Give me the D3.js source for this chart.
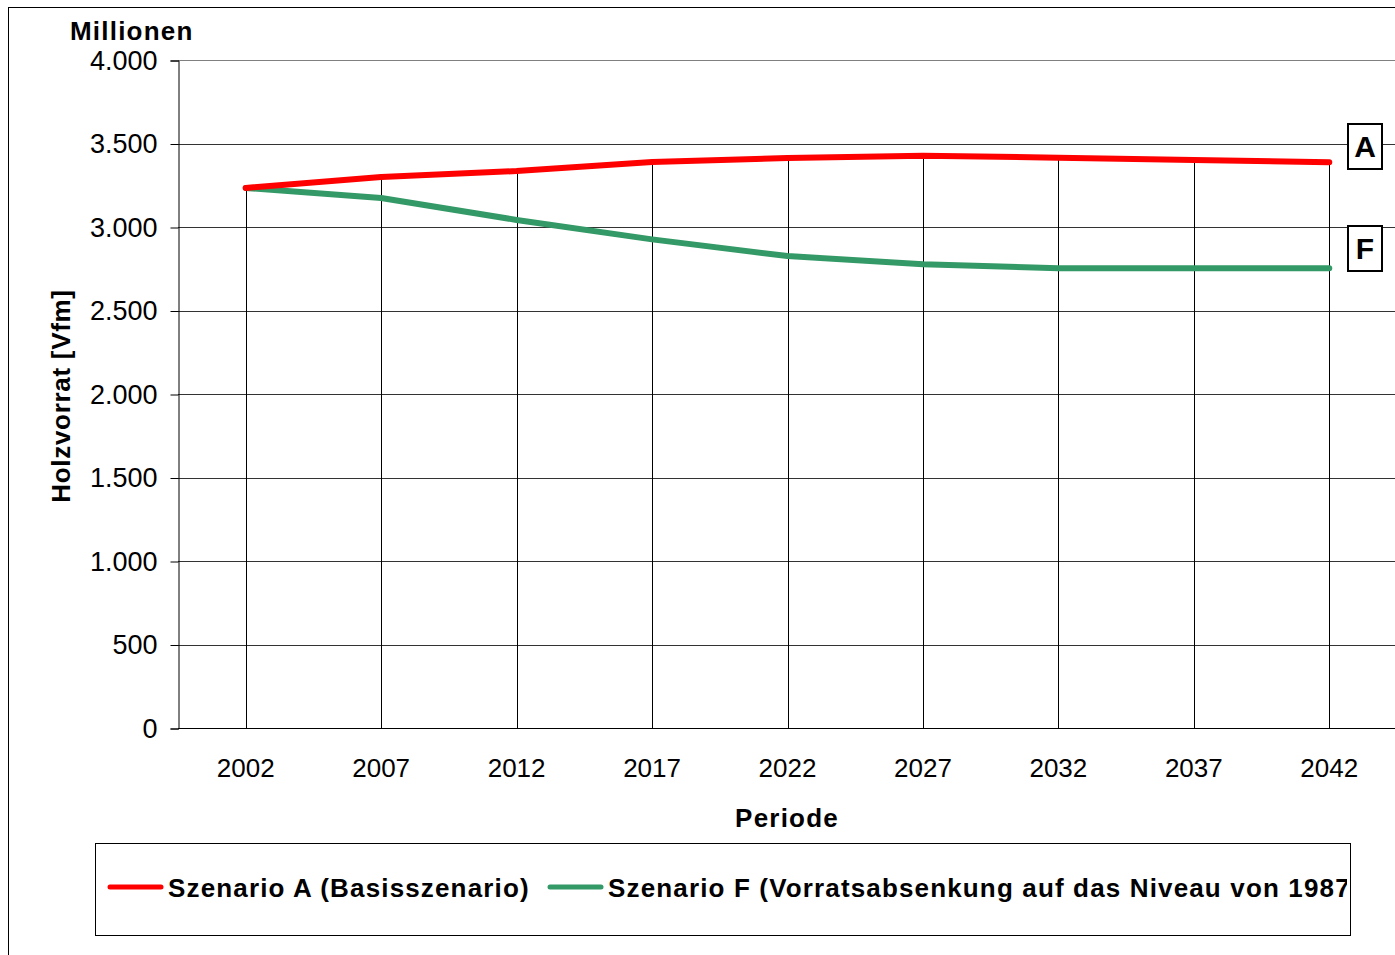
<!DOCTYPE html>
<html>
<head>
<meta charset="utf-8">
<script src="https://cdn.jsdelivr.net/npm/d3@7"></script>
<style>
  body { margin: 0; background: #fff; }
  text { font-family: "Liberation Sans", Arial, sans-serif; fill: #000; }
</style>
</head>
<body>
<div id="chart"></div>
<script>
// values in millions of Vfm
var years = ["2002", "2007", "2012", "2017", "2022", "2027", "2032", "2037", "2042"];
var scenarioA = [3234, 3299, 3335, 3389, 3413, 3427, 3415, 3401, 3388];
var scenarioF = [3234, 3174, 3042, 2926, 2826, 2777, 2753, 2753, 2753];
var yTicks = [0, 500, 1000, 1500, 2000, 2500, 3000, 3500, 4000];
var seriesNames = ["Szenario A (Basisszenario)", "Szenario F (Vorratsabsenkung auf das Niveau von 1987)"];
var seriesTags = ["A", "F"];
var seriesColors = ["#ff0000", "#339966"];

var width = 1395, height = 955;
var plotLeft = 178, plotRight = 1397, plotTop = 60, plotBottom = 728;

var svg = d3.select("#chart").append("svg")
    .attr("width", width)
    .attr("height", height);

// outer chart border (cut off at the right and bottom)
svg.append("rect")
    .attr("x", 8.5).attr("y", 7.5)
    .attr("width", 1400).attr("height", 1000)
    .attr("fill", "#fff")
    .attr("stroke", "#000")
    .attr("stroke-width", 1);

var x = d3.scaleBand().domain(years).range([plotLeft, plotRight]);
var y = d3.scaleLinear().domain([0, 4000]).range([plotBottom, plotTop]);
var xc = function (d) { return x(d) + x.bandwidth() / 2; };

var fmt = d3.formatLocale({ decimal: ",", thousands: ".", grouping: [3], currency: ["", "€"] }).format(",.0f");

// horizontal gridlines
svg.append("g")
    .selectAll("line")
    .data(yTicks.filter(function (d) { return d > 0; }))
    .enter().append("line")
    .attr("x1", plotLeft).attr("x2", width)
    .attr("y1", function (d) { return Math.round(y(d)) + 0.5; })
    .attr("y2", function (d) { return Math.round(y(d)) + 0.5; })
    .attr("stroke", function (d) { return d === 4000 ? "#808080" : "#333"; })
    .attr("stroke-width", 1);

// y axis
var yAxis = svg.append("g")
    .attr("transform", "translate(" + (plotLeft + 0.5) + ",0.5)")
    .call(d3.axisLeft(y).tickValues(yTicks).tickSize(8).tickPadding(13).tickFormat(fmt));
yAxis.select(".domain").attr("stroke", "#000");
yAxis.selectAll(".tick line").attr("stroke", "#000");
yAxis.selectAll("text")
    .style("font-size", "27px")
    .style("font-family", "'Liberation Sans', Arial, sans-serif")
    .attr("fill", "#000");

// drop lines from the highest point to the axis
svg.append("g")
    .selectAll("line")
    .data(years)
    .enter().append("line")
    .attr("x1", function (d) { return Math.round(xc(d)) + 0.5; })
    .attr("x2", function (d) { return Math.round(xc(d)) + 0.5; })
    .attr("y1", function (d, i) { return y(Math.max(scenarioA[i], scenarioF[i])); })
    .attr("y2", plotBottom)
    .attr("stroke", "#000")
    .attr("stroke-width", 1);

// x axis
svg.append("line")
    .attr("x1", plotLeft).attr("x2", width)
    .attr("y1", plotBottom + 0.5).attr("y2", plotBottom + 0.5)
    .attr("stroke", "#000");

svg.append("g")
    .selectAll("text")
    .data(years)
    .enter().append("text")
    .attr("x", xc)
    .attr("y", 777)
    .attr("text-anchor", "middle")
    .style("font-size", "26px")
    .text(function (d) { return d; });

// series lines
var line = d3.line()
    .x(function (d, i) { return xc(years[i]); })
    .y(function (d) { return y(d); });

[scenarioF, scenarioA].forEach(function (vals, k) {
    var idx = k === 0 ? 1 : 0;
    svg.append("path")
        .datum(vals)
        .attr("d", line)
        .attr("fill", "none")
        .attr("stroke", seriesColors[idx])
        .attr("stroke-width", 6)
        .attr("stroke-linecap", "round")
        .attr("stroke-linejoin", "round");
});

// tag boxes A and F
var tagY = [146, 248];
seriesTags.forEach(function (t, i) {
    svg.append("rect")
        .attr("x", 1348).attr("y", tagY[i] - 22)
        .attr("width", 34).attr("height", 45)
        .attr("fill", "#fff")
        .attr("stroke", "#000")
        .attr("stroke-width", 2);
    svg.append("text")
        .attr("x", 1365).attr("y", tagY[i] + 11)
        .attr("text-anchor", "middle")
        .style("font-size", "30px")
        .style("font-weight", "bold")
        .text(t);
});

// axis titles
svg.append("text")
    .attr("x", 70).attr("y", 40)
    .style("font-size", "26px")
    .style("font-weight", "bold")
    .style("letter-spacing", "1.2px")
    .text("Millionen");

svg.append("text")
    .attr("transform", "translate(70,396) rotate(-90)")
    .attr("text-anchor", "middle")
    .style("font-size", "26px")
    .style("font-weight", "bold")
    .style("letter-spacing", "0.7px")
    .text("Holzvorrat [Vfm]");

svg.append("text")
    .attr("x", 787).attr("y", 827)
    .attr("text-anchor", "middle")
    .style("font-size", "26px")
    .style("font-weight", "bold")
    .style("letter-spacing", "1.2px")
    .text("Periode");

// legend
svg.append("clipPath").attr("id", "legclip")
    .append("rect")
    .attr("x", 96).attr("y", 844).attr("width", 1251).attr("height", 90);

svg.append("rect")
    .attr("x", 95.5).attr("y", 843.5)
    .attr("width", 1255).attr("height", 92)
    .attr("fill", "#fff")
    .attr("stroke", "#000")
    .attr("stroke-width", 1);

var legX = [108, 548];
var leg = svg.append("g").attr("clip-path", "url(#legclip)");
seriesNames.forEach(function (name, i) {
    leg.append("line")
        .attr("x1", legX[i] + 2).attr("x2", legX[i] + 53)
        .attr("y1", 887).attr("y2", 887)
        .attr("stroke", seriesColors[i])
        .attr("stroke-width", 5)
        .attr("stroke-linecap", "round");
    leg.append("text")
        .attr("x", legX[i] + 60).attr("y", 897)
        .style("font-size", "26px")
        .style("font-weight", "bold")
        .style("letter-spacing", "1.15px")
        .text(name);
});
</script>
</body>
</html>
